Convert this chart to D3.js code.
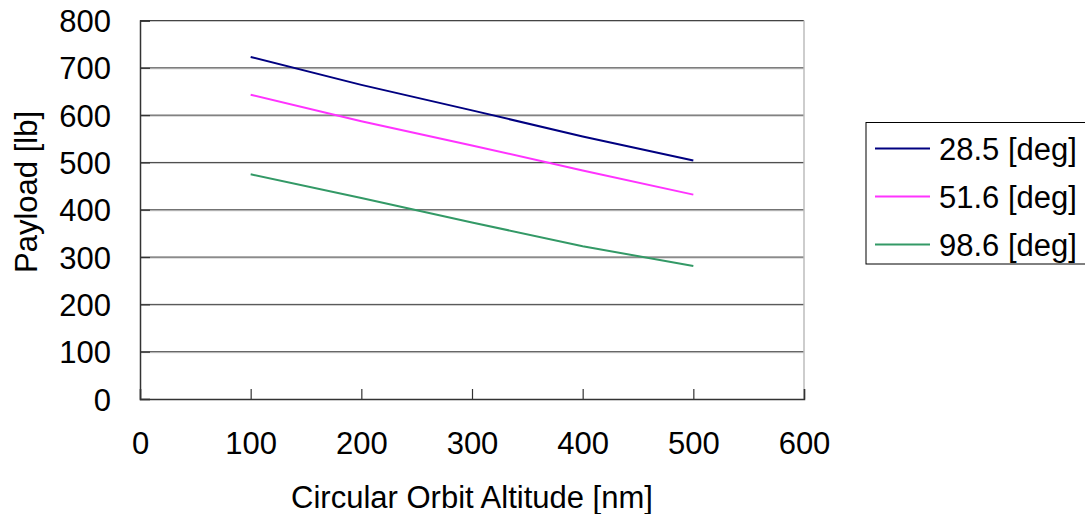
<!doctype html>
<html>
<head>
<meta charset="utf-8">
<title>Payload vs Circular Orbit Altitude</title>
<style>
  body { margin: 0; background: #fff; }
  text { font-family: "Liberation Sans", Arial, sans-serif; fill: #000; }
</style>
</head>
<body>
<svg width="1085" height="514"></svg>
<script src="https://d3js.org/d3.v7.min.js"></script>
<script>
var altitudes = [100, 200, 300, 400, 500];
var seriesNames = ["28.5 [deg]", "51.6 [deg]", "98.6 [deg]"];
var seriesColors = ["#000080", "#ff33ff", "#339966"];
var payload285 = [723, 664, 610, 555, 504];
var payload516 = [643, 587, 536, 483, 432];
var payload986 = [475, 425, 373, 323, 281];
var xTicks = [0, 100, 200, 300, 400, 500, 600];
var yTicks = [0, 100, 200, 300, 400, 500, 600, 700, 800];

var series = [payload285, payload516, payload986].map(function(vals, i) {
  return {
    name: seriesNames[i],
    color: seriesColors[i],
    values: vals.map(function(v, j) { return { x: altitudes[j], y: v }; })
  };
});

var svg = d3.select("svg");
var plotLeft = 140, plotRight = 804, plotTop = 20.5, plotBottom = 399;
var fontSize = "31px";

var x = d3.scaleLinear().domain([0, 600]).range([plotLeft, plotRight]);
var y = d3.scaleLinear().domain([0, 800]).range([plotBottom, plotTop]);

// gridlines (dark line with a light shadow underneath)
var gridVals = yTicks.filter(function(d) { return d > 0; });

svg.selectAll(".gridShadow")
  .data(gridVals)
  .enter().append("line")
  .attr("x1", plotLeft).attr("x2", plotRight)
  .attr("y1", function(d) { return y(d) + 1; })
  .attr("y2", function(d) { return y(d) + 1; })
  .attr("stroke", "#c8c8c8").attr("stroke-width", 1);

svg.selectAll(".grid")
  .data(gridVals)
  .enter().append("line")
  .attr("x1", plotLeft).attr("x2", plotRight)
  .attr("y1", function(d) { return y(d); })
  .attr("y2", function(d) { return y(d); })
  .attr("stroke", "#444").attr("stroke-width", 1);

// right border of the plot area
svg.append("line")
  .attr("x1", plotRight).attr("x2", plotRight)
  .attr("y1", plotTop).attr("y2", plotBottom)
  .attr("stroke", "#bdbdbd").attr("stroke-width", 1.5);

// axes
var xAxis = d3.axisBottom(x).tickValues(xTicks).tickSize(-10);
var yAxis = d3.axisLeft(y).tickValues(yTicks).tickSize(-10);

var gx = svg.append("g").attr("transform", "translate(0," + plotBottom + ")").call(xAxis);
var gy = svg.append("g").attr("transform", "translate(" + plotLeft + ",0)").call(yAxis);

[gx, gy].forEach(function(g) {
  g.select(".domain").attr("stroke", "#333").attr("stroke-width", 1.5);
  g.selectAll(".tick line").attr("stroke", "#333").attr("stroke-width", 1.2);
  g.selectAll(".tick text")
    .style("font-family", "'Liberation Sans', Arial, sans-serif")
    .style("font-size", fontSize)
    .attr("fill", "#000");
});
gx.selectAll(".tick text").attr("y", 55).attr("dy", null);
gy.selectAll(".tick text").attr("x", -29).attr("dy", "0.36em");

// series lines
var line = d3.line()
  .x(function(d) { return x(d.x); })
  .y(function(d) { return y(d.y); });

svg.selectAll(".series")
  .data(series)
  .enter().append("path")
  .attr("d", function(d) { return line(d.values); })
  .attr("fill", "none")
  .attr("stroke", function(d) { return d.color; })
  .attr("stroke-width", 2);

// axis titles
svg.append("text")
  .attr("x", 472).attr("y", 508)
  .attr("text-anchor", "middle")
  .style("font-size", fontSize)
  .text("Circular Orbit Altitude [nm]");

svg.append("text")
  .attr("transform", "translate(37,192) rotate(-90)")
  .attr("text-anchor", "middle")
  .style("font-size", fontSize)
  .text("Payload [lb]");

// legend
var legend = svg.append("g");
legend.append("rect")
  .attr("x", 866).attr("y", 122.5)
  .attr("width", 230).attr("height", 141.5)
  .attr("fill", "#fff").attr("stroke", "#000").attr("stroke-width", 1);

var items = legend.selectAll(".item")
  .data(series)
  .enter().append("g")
  .attr("transform", function(d, i) { return "translate(0," + (148.5 + i * 48) + ")"; });

items.append("line")
  .attr("x1", 875).attr("x2", 930)
  .attr("stroke", function(d) { return d.color; })
  .attr("stroke-width", 2);

items.append("text")
  .attr("x", 939).attr("dy", "0.36em")
  .style("font-size", fontSize)
  .text(function(d) { return d.name; });
</script>
</body>
</html>
